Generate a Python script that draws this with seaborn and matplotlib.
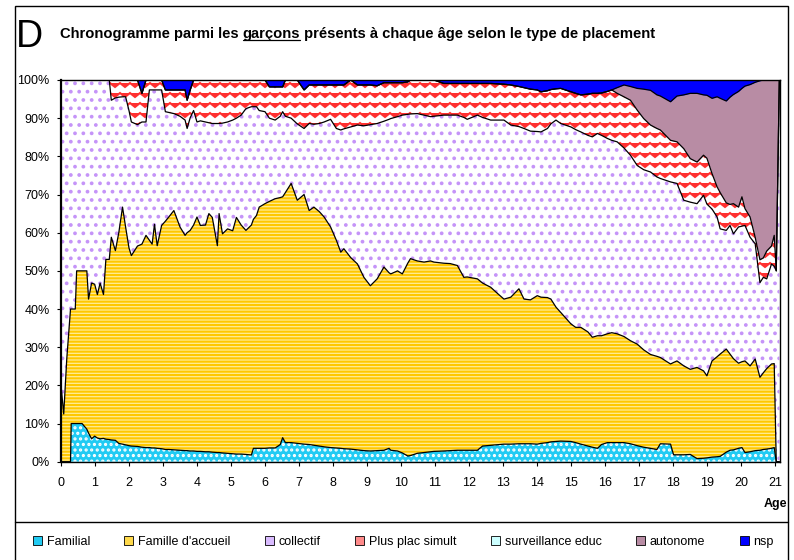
import numpy as np
import matplotlib
matplotlib.use("Agg")
import matplotlib.pyplot as plt
import matplotlib.hatch as mhatch
from matplotlib.path import Path
from matplotlib.patches import Patch, Rectangle
from matplotlib.lines import Line2D
import seaborn as sns

# --- Daten (in %): obere Grenze jeder Schicht, kumuliert ---
ages = [0.00, 0.08, 0.17, 0.28, 0.30, 0.42, 0.46, 0.62, 0.76, 0.81,
        0.90, 0.99, 1.07, 1.15, 1.25, 1.32, 1.42, 1.48, 1.60, 1.70,
        1.81, 1.90, 2.00, 2.07, 2.25, 2.38, 2.50, 2.60, 2.68, 2.75,
        2.83, 2.96, 3.07, 3.17, 3.32, 3.50, 3.65, 3.71, 3.80, 3.90,
        4.00, 4.10, 4.25, 4.35, 4.45, 4.60, 4.65, 4.75, 4.90, 5.05,
        5.16, 5.30, 5.44, 5.60, 5.66, 5.75, 5.83, 6.00, 6.13, 6.30,
        6.45, 6.52, 6.60, 6.77, 6.95, 7.15, 7.30, 7.44, 7.60, 7.74,
        7.93, 8.10, 8.23, 8.32, 8.52, 8.72, 8.91, 9.10, 9.30, 9.50,
        9.65, 9.70, 9.90, 10.04, 10.20, 10.28, 10.48, 10.68, 10.87, 10.97,
        11.26, 11.45, 11.66, 11.85, 11.95, 12.25, 12.40, 12.64, 12.85, 13.03,
        13.23, 13.47, 13.62, 13.81, 14.01, 14.12, 14.31, 14.41, 14.56, 14.70,
        15.00, 15.14, 15.29, 15.50, 15.63, 15.78, 15.90, 16.07, 16.20, 16.36,
        16.56, 16.75, 16.95, 17.14, 17.34, 17.53, 17.63, 17.93, 18.02, 18.12,
        18.32, 18.51, 18.71, 18.90, 19.00, 19.15, 19.30, 19.39, 19.57, 19.68,
        19.78, 19.93, 20.03, 20.12, 20.27, 20.42, 20.56, 20.66, 20.76, 20.90,
        20.98, 21.04, 21.13]

top_familial = [0, 0, 0, 0, 10, 10, 10, 10, 8.5, 7.5,
                6.0, 6.7, 6.2, 6.0, 6.1, 5.9, 5.8, 5.7, 5.6, 4.8,
                4.6, 4.4, 4.2, 4.1, 4.0, 3.8, 3.7, 3.7, 3.6, 3.6,
                3.5, 3.4, 3.2, 3.2, 3.1, 3.0, 2.9, 2.9, 2.8, 2.8,
                2.7, 2.7, 2.6, 2.6, 2.5, 2.4, 2.4, 2.3, 2.2, 2.1,
                2.0, 2.0, 1.9, 1.75, 3.5, 3.5, 3.5, 3.5, 3.6, 3.6,
                4.5, 6.3, 5.0, 5.0, 4.8, 4.6, 4.5, 4.3, 4.1, 3.9,
                3.7, 3.6, 3.5, 3.4, 3.3, 3.1, 2.9, 2.8, 2.9, 3.0,
                3.5, 3.0, 2.8, 2.3, 1.5, 1.6, 2.2, 2.4, 2.6, 2.7,
                2.8, 2.9, 3.0, 3.0, 3.0, 3.0, 4.1, 4.3, 4.5, 4.6,
                4.6, 4.7, 4.7, 4.7, 4.6, 4.8, 5.0, 5.2, 5.3, 5.4,
                5.3, 5.0, 4.6, 4.1, 3.8, 3.5, 4.5, 5.0, 5.0, 5.0,
                5.0, 4.7, 4.2, 3.8, 3.5, 3.2, 4.7, 4.6, 1.8, 1.8,
                1.8, 1.9, 0.8, 0.9, 1.0, 1.2, 1.3, 1.4, 2.5, 3.0,
                3.1, 3.5, 3.7, 2.4, 2.6, 2.9, 3.0, 3.2, 3.3, 3.5,
                3.7, 0, 0]

top_accueil = [20, 12.5, 27, 40, 40, 40, 50, 50, 50, 42.6,
               46.8, 46.5, 43.8, 46.8, 43.8, 53, 53, 58.8, 55.3, 60,
               66.7, 61.5, 56, 54, 56.5, 57, 59.3, 58, 57, 62.2,
               56.6, 61.9, 63, 64.1, 65.8, 61.5, 59.3, 60, 60.6, 62,
               64.1, 61.9, 62, 65, 64, 56.6, 65, 59.7, 61, 60.5,
               64, 62, 60.6, 62, 63.5, 64.5, 66.7, 67.6, 68.2, 68.9,
               69.2, 69.4, 70.5, 72.9, 68.5, 70, 65.8, 66.7, 65.5, 64.1,
               61.5, 58, 54.9, 55.8, 53.5, 51.8, 48.3, 46.1, 47.9, 51,
               49.5, 49.2, 50, 49.2, 52, 53.2, 52.6, 52.3, 52.6, 52.3,
               52, 51.9, 51.4, 48.3, 48.4, 47.9, 46.8, 45.7, 44, 42.6,
               43.1, 45.3, 42.6, 42.4, 43.5, 43.1, 43, 42.6, 40.5, 39.1,
               36.1, 35.2, 35.2, 34, 32.6, 33, 33, 33.5, 33.8, 33.5,
               32.8, 31.7, 30.8, 29.3, 28.1, 27.6, 27.3, 25.6, 26.0, 26.4,
               25.1, 24.2, 24.7, 23.8, 22.5, 26.4, 27.5, 28.2, 29.5, 28.2,
               27.0, 25.8, 26.2, 26.4, 25.1, 26.9, 22.1, 23.3, 24.4, 25.6,
               25.7, 0, 0]

top_collectif = [100, 100, 100, 100, 100, 100, 100, 100, 100, 100,
                 100, 100, 100, 100, 100, 100, 100, 94.7, 95.3, 95.5,
                 95.6, 95.6, 92, 89, 88.3, 89, 89, 97.4, 97.4, 97.4,
                 97.4, 97.4, 91.7, 91.5, 91.2, 90.5, 89.5, 87.3, 90.1, 92,
                 89, 89.3, 89, 88.8, 88.6, 88.6, 88.6, 88.7, 89, 89.5,
                 90, 90.8, 92.5, 93, 93, 93, 92, 91.7, 90, 89.5,
                 90.5, 91.7, 90.5, 90, 88.5, 87.3, 88.6, 88.4, 88.6, 89,
                 89.7, 87.3, 86.9, 87.2, 87.7, 88.2, 88.0, 88.3, 88.6, 89.2,
                 89.7, 89.9, 90.4, 90.8, 91, 91.1, 91.2, 90.8, 90.4, 90.5,
                 90.8, 90.8, 90.8, 90.2, 89.7, 90.8, 90.2, 89.5, 89.5, 89.5,
                 88.2, 87.8, 87.3, 86.6, 86.5, 86.4, 87.3, 88.5, 89.5, 88.6,
                 87.7, 87.0, 86.4, 85.5, 85.1, 86.0, 85.5, 84.7, 84.2, 83.8,
                 82.2, 80.3, 77.6, 76.5, 75.9, 74.6, 74.2, 73.3, 73.1, 72.9,
                 68.5, 68.0, 67.6, 69.8, 67.5, 66.2, 64.1, 61.0, 60.6, 61.9,
                 59.7, 61.5, 61.7, 61.9, 58.8, 57.1, 46.9, 48.3, 47.9, 51.8,
                 51.2, 50, 100]

top_plac_simult = [100, 100, 100, 100, 100, 100, 100, 100, 100, 100,
                   100, 100, 100, 100, 100, 100, 100, 100, 100, 100,
                   100, 100, 100, 100, 100, 96.5, 100, 100, 100, 100,
                   100, 100, 97.4, 97.4, 97.4, 97.4, 97.4, 94.7, 97.4, 100,
                   100, 100, 100, 100, 100, 100, 100, 100, 100, 100,
                   100, 100, 100, 100, 100, 100, 100, 100, 98.2, 98.2,
                   98.2, 98.2, 100, 100, 100, 97.4, 98.7, 98.7, 98.7, 98.7,
                   98.7, 98.7, 98.7, 98.7, 100, 98.7, 98.7, 98.7, 98.5, 99.3,
                   99.3, 99.3, 99.3, 99.3, 99.5, 100, 100, 100, 100, 100,
                   99.1, 99.1, 99.1, 99.1, 99.1, 99.1, 99.1, 99.1, 99, 98.9,
                   98.7, 98.3, 98.0, 97.6, 97.4, 96.9, 97.2, 97.5, 97.7, 97.8,
                   96.9, 96.5, 96.1, 96.3, 96.5, 96.5, 96.6, 97.0, 97.4, 96.5,
                   95.6, 94.7, 92.1, 89.9, 88.2, 87.3, 86.9, 84.2, 84.0, 83.8,
                   82.0, 79.4, 78.5, 80.3, 79.5, 75.5, 72.0, 70.5, 67.8, 67.4,
                   67.6, 66.7, 69.4, 66.3, 64.1, 58.8, 52.9, 53.4, 55.2, 56.5,
                   59.3, 50, 100]

# "autonome" n'apparait qu'a partir de ~16 ans : avant, sa limite = celle de plac simult
top_autonome = top_plac_simult[:119] + [
    98.0,
    98.7, 98.3, 97.8, 97.6, 97.3, 96.1, 95.8, 94.3, 95.0, 95.8,
    96.1, 96.5, 96.5, 96.1, 96.0, 95.2, 95.6, 95.2, 94.5, 95.5,
    96.2, 97.0, 97.8, 98.4, 98.8, 99.4, 99.8, 100, 100, 100,
    100, 100, 100]

categories = ["Familial", "Famille d'accueil", "collectif", "Plus plac simult",
              "surveillance educ", "autonome", "nsp"]
x_ticks = list(range(0, 22))
y_ticks = list(range(0, 101, 10))

# --- Anteile je Kategorie aus den kumulierten Grenzen ---
tops = np.array([top_familial, top_accueil, top_collectif, top_plac_simult,
                 top_plac_simult, top_autonome, [100] * len(ages)], dtype=float)
shares = np.diff(np.vstack([np.zeros(len(ages)), tops]), axis=0)


# Excel "Wellen"-Muster: Zickzack-Zeilen, ersetzt das '|'-Hatch
class WaveHatch(mhatch.HatchPatternBase):
    def __init__(self, hatch, density):
        self.num_lines = hatch.count('|') * 10
        self.num_vertices = self.num_lines * 21

    def set_vertices_and_codes(self, vertices, codes):
        xs = np.linspace(0.0, 1.0, 21)
        wiggle = 0.02 * (-1.0) ** np.arange(21)
        for i in range(self.num_lines):
            sl = slice(i * 21, (i + 1) * 21)
            vertices[sl, 0] = xs
            vertices[sl, 1] = (i + 0.5) / self.num_lines + wiggle
            codes[sl] = Path.LINETO
            codes[i * 21] = Path.MOVETO


mhatch._hatch_types[mhatch._hatch_types.index(mhatch.VerticalHatch)] = WaveHatch

sns.set_style("ticks", {"axes.edgecolor": "black", "xtick.color": "black",
                        "ytick.color": "black", "text.color": "black"})
plt.rcParams['font.family'] = ['Liberation Sans', 'DejaVu Sans']
plt.rcParams['hatch.linewidth'] = 1.5

face_colors = ['#21CBF3', '#FFEC96', 'white', 'white', '#CCFFFF', '#B88CA4', '#0000FF']
hatch_colors = ['white', '#FFC800', '#C594F8', '#FF3030', '#CCFFFF', '#B88CA4', '#0000FF']
hatches = ['...', '-----', '..', '|', None, None, None]
legend_colors = ['#21CBF3', '#FFD94A', '#D9BBFF', '#FF8A8A', '#CCFFFF', '#B88CA4', '#0000FF']

fig = plt.figure(figsize=(7.94, 5.60), dpi=100)
ax = fig.add_axes([61 / 794, 1 - 461.7 / 560, 719 / 794, 381.7 / 560])

polys = ax.stackplot(ages, *shares, labels=categories)
for poly, fc, hc, h in zip(polys, face_colors, hatch_colors, hatches):
    poly.set_facecolor(fc)
    poly.set_edgecolor(hc)
    poly.set_linewidth(0)
    if h:
        poly.set_hatch(h)

# schwarze Konturen oben auf jeder Schicht
for top in [top_familial, top_accueil, top_collectif, top_plac_simult, top_autonome]:
    ax.plot(ages, top, color='black', lw=0.9)

ax.set_xlim(0, 21.15)
ax.set_ylim(0, 100)
ax.set_xticks(x_ticks)
ax.set_yticks(y_ticks)
ax.set_yticklabels([f"{v}%" for v in y_ticks])
ax.tick_params(axis='both', labelsize=9, length=3.2, width=0.8, direction='out')
ax.tick_params(axis='x', pad=7.5)
ax.tick_params(axis='y', pad=5)
for sp in ax.spines.values():
    sp.set_linewidth(1.0)
    sp.set_color('black')
ax.spines['left'].set_linewidth(1.6)

# Rahmen und Trennlinie der Legende
fig.add_artist(Rectangle((15 / 794, -0.05), 773 / 794, 1.05 - 6 / 560,
                         transform=fig.transFigure, fill=False, lw=1.0, ec='black'))
fig.add_artist(Line2D([15 / 794, 788 / 794], [1 - 522 / 560] * 2,
                      transform=fig.transFigure, color='black', lw=1.0))

fig.text(16 / 794, 1 - 47 / 560, "D", fontsize=27, va='baseline', ha='left')

# Titel mit unterstrichenem "garçons"
title_size = 10.6
t1 = fig.text(60 / 794, 1 - 34 / 560, "Chronogramme parmi les ", fontsize=title_size,
              fontweight='bold', va='center')
t2 = ax.annotate("garçons", xy=(1, 0), xycoords=t1, va='bottom', fontsize=title_size,
                 fontweight='bold', annotation_clip=False)
t3 = ax.annotate(" présents à chaque âge selon le type de placement", xy=(1, 0),
                 xycoords=t2, va='bottom', fontsize=title_size, fontweight='bold',
                 annotation_clip=False)

fig.text(787 / 794, 1 - 504 / 560, "Age", fontsize=9, fontweight='bold',
         ha='right', va='center')

handles = [Patch(facecolor=c, edgecolor='black', linewidth=0.6) for c in legend_colors]
fig.legend(handles, categories, loc='center', bbox_to_anchor=(0.508, 1 - 542 / 560),
           ncol=7, frameon=False, fontsize=9, handlelength=0.7, handleheight=0.7,
           handletextpad=0.4, columnspacing=2.76)

fig.canvas.draw()
bb = t2.get_window_extent().transformed(fig.transFigure.inverted())
fig.add_artist(Line2D([bb.x0, bb.x1], [bb.y0 + 0.001] * 2, transform=fig.transFigure,
                      color='black', lw=0.9))

fig.savefig('out.png', dpi=100)
plt.close(fig)
